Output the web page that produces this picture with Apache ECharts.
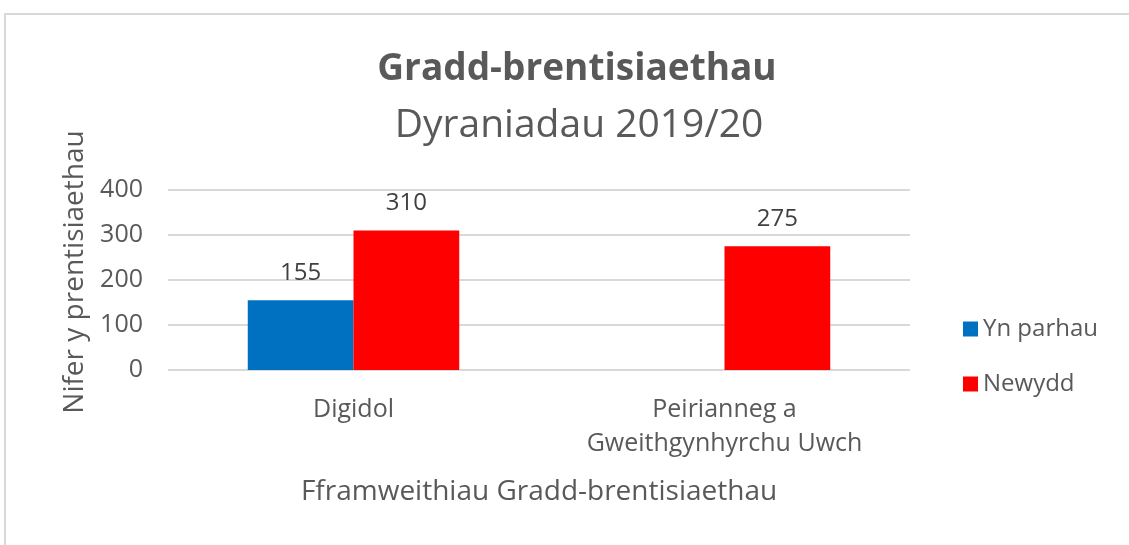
<!DOCTYPE html>
<html>
<head>
<meta charset="utf-8">
<script src="https://cdn.jsdelivr.net/npm/echarts@6/dist/echarts.min.js"></script>
<style>html,body{margin:0;padding:0;background:#fff;}#c{width:1129px;height:545px;}</style>
</head>
<body>
<div id="c"></div>
<script>
const categories = ['Digidol', 'Peirianneg a\nGweithgynhyrchu Uwch'];
const ynParhau = [155, null];
const newydd = [310, 275];
const seriesNames = ['Yn parhau', 'Newydd'];
const yTicks = { min: 0, max: 400, interval: 100 };

const FONT = '"Open Sans", "Noto Sans", sans-serif';
const chart = echarts.init(document.getElementById('c'));
chart.setOption({
  animation: false,
  textStyle: { fontFamily: FONT },
  graphic: [{
    type: 'rect', silent: true,
    shape: { x: 5, y: 14, width: 1200, height: 600 },
    style: { fill: 'none', stroke: '#d9d9d9', lineWidth: 2 }
  }],
  title: [
    { text: 'Gradd-brentisiaethau', left: 572, top: 46, textAlign: 'center',
      textStyle: { fontSize: 37, fontWeight: 'bold', color: '#595959', fontFamily: FONT } },
    { text: 'Dyraniadau 2019/20', left: 574, top: 101, textAlign: 'center',
      textStyle: { fontSize: 39, fontWeight: 'normal', color: '#595959', fontFamily: FONT } }
  ],
  legend: {
    orient: 'vertical', left: 958, top: 312,
    itemWidth: 15, itemHeight: 15, itemGap: 31,
    icon: 'rect',
    textStyle: { fontSize: 24, color: '#595959', fontFamily: FONT },
    data: seriesNames
  },
  grid: { left: 168, right: 219, top: 190, bottom: 175, containLabel: false },
  xAxis: {
    type: 'category', data: categories,
    axisLine: { show: false }, axisTick: { show: false },
    axisLabel: { fontSize: 25, color: '#595959', margin: 23, lineHeight: 34, fontFamily: FONT },
    name: 'Fframweithiau Gradd-brentisiaethau', nameLocation: 'middle', nameGap: 108,
    nameTextStyle: { fontSize: 28, color: '#595959', fontFamily: FONT }
  },
  yAxis: {
    type: 'value', min: yTicks.min, max: yTicks.max, interval: yTicks.interval,
    axisLine: { show: false }, axisTick: { show: false },
    splitLine: { lineStyle: { color: '#d9d9d9', width: 2 } },
    axisLabel: { fontSize: 25, color: '#595959', margin: 25, fontFamily: FONT },
    name: 'Nifer y prentisiaethau', nameLocation: 'middle', nameGap: 79,
    nameTextStyle: { fontSize: 28, color: '#595959', fontFamily: FONT, padding: [0, 0, 0, 16] }
  },
  series: [
    { name: seriesNames[0], type: 'bar', data: ynParhau, barGap: '0%', barCategoryGap: '43%',
      itemStyle: { color: '#0070c0' },
      label: { show: true, position: 'top', distance: 15, fontSize: 24, color: '#404040', fontFamily: FONT } },
    { name: seriesNames[1], type: 'bar', data: newydd, barGap: '0%', barCategoryGap: '43%',
      itemStyle: { color: '#ff0000' },
      label: { show: true, position: 'top', distance: 15, fontSize: 24, color: '#404040', fontFamily: FONT } }
  ]
});
</script>
</body>
</html>
